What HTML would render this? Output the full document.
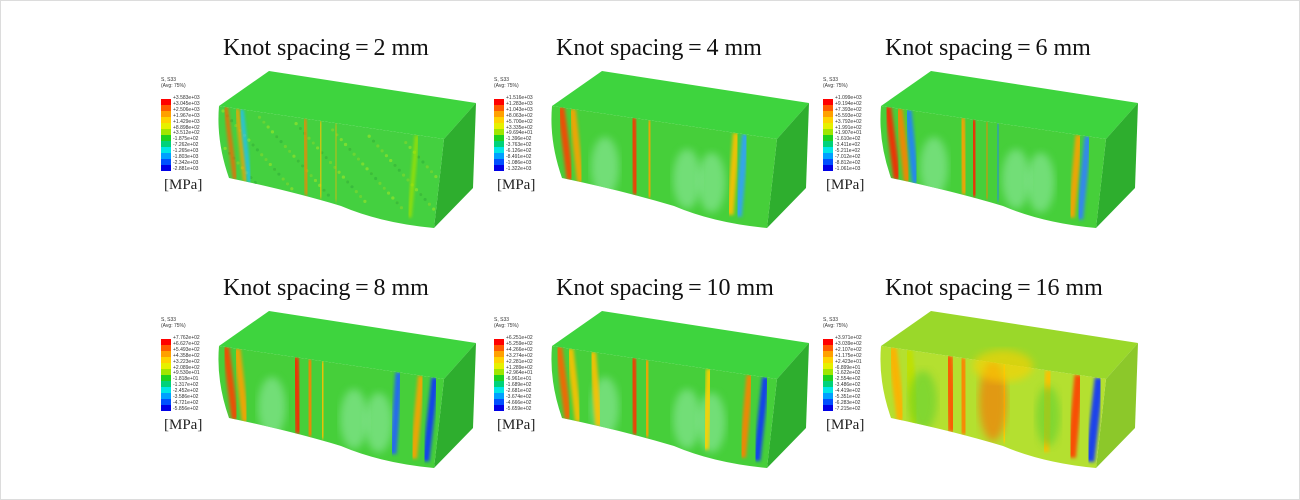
<!DOCTYPE html>
<html><head><meta charset="utf-8"><style>
html,body{margin:0;padding:0;background:#fff}
#w{position:relative;width:1298px;height:498px;border:1px solid #dcdcdc;overflow:hidden;background:#fff}
.t{position:absolute;font-family:"Liberation Serif",serif;font-size:24px;color:#111;white-space:nowrap}
.lg{position:absolute;font-family:"Liberation Sans",sans-serif;font-size:5px;color:#333;line-height:5.9px}
.mp{position:absolute;font-family:"Liberation Serif",serif;font-size:15px;color:#222}
</style></head><body><div id="w">
<svg id="s" width="1298" height="498" style="position:absolute;left:0;top:0"></svg>
</div>
<script>
const W=document.getElementById('w'),S=document.getElementById('s');
const cols=['#ff0000','#ff5a00','#ffa000','#ffd200','#e6f000','#a0e600','#5ad800','#1ed21e','#00d27a','#00e6e6','#00a0ff','#0050ff','#0000e6'];
const titles=['Knot spacing\u2009=\u20092 mm','Knot spacing\u2009=\u20094 mm','Knot spacing\u2009=\u20096 mm','Knot spacing\u2009=\u20098 mm','Knot spacing\u2009=\u200910 mm','Knot spacing\u2009=\u200916 mm'];
const labs=[['+3.583e+03','+3.045e+03','+2.506e+03','+1.967e+03','+1.429e+03','+8.898e+02','+3.512e+02','-1.875e+02','-7.262e+02','-1.265e+03','-1.803e+03','-2.342e+03','-2.881e+03'],
['+1.516e+03','+1.283e+03','+1.043e+03','+8.063e+02','+5.700e+02','+3.335e+02','+9.694e+01','-1.396e+02','-3.763e+02','-6.126e+02','-8.491e+02','-1.086e+03','-1.322e+03'],
['+1.099e+03','+9.194e+02','+7.393e+02','+5.593e+02','+3.792e+02','+1.991e+02','+1.907e+01','-1.610e+02','-3.411e+02','-5.211e+02','-7.012e+02','-8.812e+02','-1.061e+03'],
['+7.762e+02','+6.627e+02','+5.493e+02','+4.358e+02','+3.223e+02','+2.089e+02','+9.530e+01','-1.818e+01','-1.317e+02','-2.452e+02','-3.586e+02','-4.721e+02','-5.856e+02'],
['+6.251e+02','+5.259e+02','+4.266e+02','+3.274e+02','+2.281e+02','+1.289e+02','+2.964e+01','-6.961e+01','-1.689e+02','-2.681e+02','-3.674e+02','-4.666e+02','-5.659e+02'],
['+3.971e+02','+3.039e+02','+2.107e+02','+1.175e+02','+2.423e+01','-6.899e+01','-1.622e+02','-2.554e+02','-3.486e+02','-4.419e+02','-5.351e+02','-6.283e+02','-7.215e+02']];
let svg='<defs><filter id="b"><feGaussianBlur stdDeviation="1.5"/></filter><filter id="b2"><feGaussianBlur stdDeviation="4"/></filter></defs>';
const stripes=[[[0.03,'#ff6000'],[0.08,'#ffa000'],[0.10,'#20c0ff'],[0.38,'#ff8000'],[0.45,'#ffc000'],[0.52,'#ffb000'],[0.88,'#a0e000']],
[[0.04,'#ff4000'],[0.09,'#ffa000'],[0.36,'#ff3000'],[0.43,'#ffa000'],[0.50,'#ff8000'],[0.82,'#ffc000'],[0.86,'#30a0ff']],
[[0.03,'#ff2000'],[0.08,'#ff8000'],[0.12,'#2080ff'],[0.36,'#ffa000'],[0.41,'#ff2000'],[0.47,'#ff8000'],[0.52,'#2080ff'],[0.88,'#ffa000'],[0.92,'#3080ff']],
[[0.03,'#ff4000'],[0.08,'#ffa000'],[0.34,'#ff2000'],[0.40,'#ff8000'],[0.46,'#ffc000'],[0.80,'#2060ff'],[0.90,'#ffa000'],[0.96,'#1030ff']],
[[0.03,'#ff6000'],[0.08,'#ffc000'],[0.18,'#ffc000'],[0.36,'#ff3000'],[0.42,'#ffa000'],[0.70,'#ffd000'],[0.88,'#ff8000'],[0.95,'#1030ff']],
[[0.05,'#ffb000'],[0.12,'#c0e000'],[0.30,'#ff5000'],[0.36,'#ff8000'],[0.55,'#ffd000'],[0.75,'#ffc000'],[0.88,'#ff4000'],[0.97,'#1030ff']]];
for(let i=0;i<6;i++){
 const ox=[0,333,662][i%3], oy=i<3?0:240;
 const t=document.createElement('div');t.className='t';t.textContent=titles[i];
 t.style.left=(222+ox)+'px';t.style.top=(34+oy)+'px';W.appendChild(t);
 const l=document.createElement('div');l.className='lg';
 l.style.left=(160+ox)+'px';l.style.top=(77+oy)+'px';
 l.innerHTML='S, S33<br>(Avg: 75%)';W.appendChild(l);
 const l2=document.createElement('div');l2.className='lg';
 l2.style.left=(172+ox)+'px';l2.style.top=(95+oy)+'px';
 l2.innerHTML=labs[i].join('<br>');W.appendChild(l2);
 for(let k=0;k<12;k++) svg+=`<rect x="${160+ox}" y="${98+oy+k*6}" width="10" height="6" fill="${cols[k+(k>5?1:0)]}"/>`;
 const m=document.createElement('div');m.className='mp';m.textContent='[MPa]';
 m.style.left=(163+ox)+'px';m.style.top=(176+oy)+'px';W.appendChild(m);
 const P=(x,y)=>(x+ox)+','+(y+oy);
 const top=i==5?'#9ad82a':'#3ed43e', side=i==5?'#8cc82a':'#2eae2e';
 svg+=`<polygon points="${P(268,70)} ${P(475,102)} ${P(443,138)} ${P(218,105)}" fill="${top}"/>`;
 svg+=`<polygon points="${P(475,102)} ${P(472,187)} ${P(433,227)} ${P(443,138)}" fill="${side}"/>`;
 const front=i==5?'#b4e030':(i==0?'#44d040':'#46cf3a');
 const cid='c'+i;
 svg+=`<clipPath id="${cid}"><path d="M${P(218,105)} L${P(443,138)} L${P(433,227)} Q${P(380,222)} ${P(340,205)} Q${P(290,190)} ${P(228,177)} Q${P(215,140)} ${P(218,105)}Z"/></clipPath>`;
 svg+=`<g clip-path="url(#${cid})"><rect x="${210+ox}" y="${100+oy}" width="240" height="130" fill="${front}"/>`;
 if(i>0&&i<5){
  for(const f of [0.2,0.6,0.72]){svg+=`<ellipse cx="${230+f*205+ox}" cy="${160+f*30+oy}" rx="14" ry="30" fill="#90e8a0" opacity=".6" filter="url(#b2)"/>`;}
 }
 if(i==0){for(let a=0;a<260;a++){const f=(a*37%100)/100, g=(a*61%100)/100;svg+=`<circle cx="${222+f*215+ox}" cy="${110+f*33+g*70+oy}" r="1.6" fill="${a%3?'#80e030':'#20b040'}" opacity=".7"/>`;}}
 for(const [f,c] of stripes[i]){
   const x1=218+f*225, y1=105+f*33, x2=228+f*205, y2=177+f*45;
   svg+=`<line x1="${x1+ox}" y1="${y1+oy}" x2="${x2+ox}" y2="${y2+oy}" stroke="${c}" stroke-width="${i==0?4:(i==5?9:7)}" opacity="0.9" filter="url(#b)"/>`;
 }
 if(i==5){
  svg+=`<ellipse cx="${330+ox}" cy="${160+oy}" rx="14" ry="40" fill="#ff6a00" opacity=".6" filter="url(#b2)"/>`;
  svg+=`<ellipse cx="${385+ox}" cy="${175+oy}" rx="12" ry="30" fill="#60d030" opacity=".6" filter="url(#b2)"/>`;
  svg+=`<ellipse cx="${260+ox}" cy="${160+oy}" rx="14" ry="30" fill="#60d030" opacity=".6" filter="url(#b2)"/>`;
 }
 svg+='</g>';
 if(i==5) svg+=`<ellipse cx="${340+ox}" cy="${125+oy}" rx="30" ry="16" fill="#ffd000" opacity=".6" filter="url(#b2)"/>`;
}
S.innerHTML=svg;
</script></body></html>
